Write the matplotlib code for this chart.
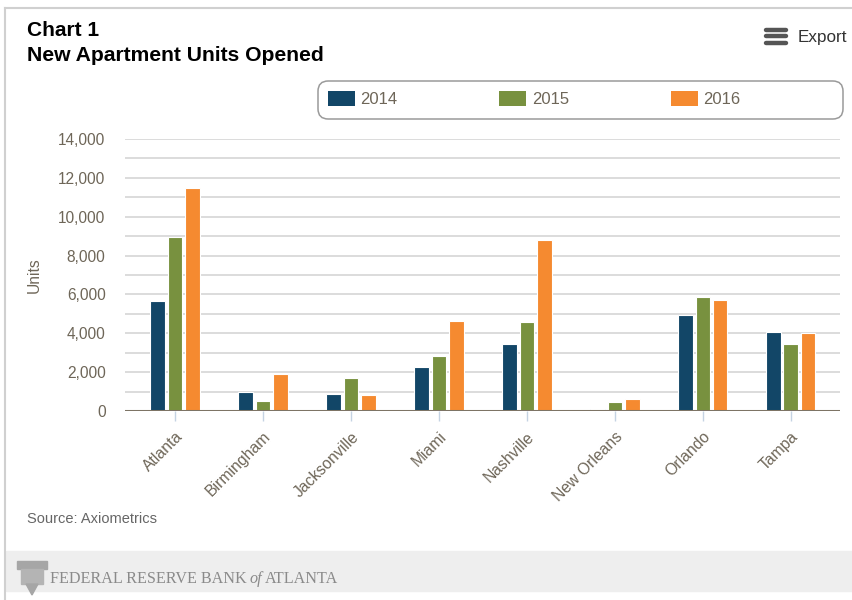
import numpy as np
import matplotlib
matplotlib.use('Agg')
import matplotlib.pyplot as plt
from matplotlib.patches import Rectangle, Patch, FancyBboxPatch, Polygon

plt.rcParams['font.family'] = ['Liberation Sans', 'DejaVu Sans']

# --- data ---
cities = ['Atlanta', 'Birmingham', 'Jacksonville', 'Miami', 'Nashville',
          'New Orleans', 'Orlando', 'Tampa']
years = ['2014', '2015', '2016']
units_2014 = [5660, 1000, 880, 2240, 3470, 110, 4920, 4090]
units_2015 = [8960, 520, 1710, 2850, 4580, 450, 5870, 3470]
units_2016 = [11500, 1900, 830, 4650, 8820, 620, 5730, 4020]
colors = ['#124667', '#78913f', '#f58a30']

TXT = '#6e6658'
W, H = 853, 600
fig = plt.figure(figsize=(W / 100, H / 100), dpi=100)

def fx(px):
    return px / W

def fy(py):
    return 1 - py / H

# frame lines and footer band
fig.add_artist(plt.Line2D([fx(5), fx(5)], [0, fy(8)], color='#d0d0d0', lw=1.5))
fig.add_artist(plt.Line2D([fx(5), 1], [fy(8), fy(8)], color='#d0d0d0', lw=1.5))
fig.add_artist(Rectangle((fx(6), fy(591)), 1 - fx(6), fy(551) - fy(591),
                         transform=fig.transFigure, color='#eeeeee', zorder=0))

ax = fig.add_axes([fx(125), fy(411), fx(840) - fx(125), fy(139) - fy(411)])

x = np.arange(len(cities))
bw = 0.165
off = 0.198
for i, (vals, c, yr) in enumerate(zip([units_2014, units_2015, units_2016], colors, years)):
    ax.bar(x + (i - 1) * off, vals, width=bw, color=c, edgecolor='white',
           linewidth=0.8, zorder=3, label=yr)

ax.set_xlim(-0.57, 7.56)
ax.set_ylim(0, 14000)
ax.set_yticks(np.arange(0, 14001, 2000))
ax.set_yticks(np.arange(1000, 14000, 2000), minor=True)
ax.set_yticklabels([f'{v:,}' for v in range(0, 14001, 2000)])
ax.grid(axis='y', which='both', color='#dcdcdc', lw=1.4, zorder=0)
ax.axhline(0, color='#7d7465', lw=2.2, zorder=4)
for s in ax.spines.values():
    s.set_visible(False)
ax.tick_params(axis='y', which='both', length=0, labelsize=11.2, labelcolor=TXT, pad=14)
ax.set_xticks(x)
ax.set_xticklabels(cities, rotation=45, ha='right', rotation_mode='anchor',
                   fontsize=11.3, color=TXT)
ax.tick_params(axis='x', length=7, width=1, color='#c5d3e3', direction='out', pad=6)
ax.set_ylabel('Units', fontsize=11.2, color=TXT, labelpad=12)

# legend: entries via fig.legend, rounded frame drawn separately
fig.add_artist(FancyBboxPatch((fx(318), fy(119)), fx(843) - fx(318), fy(81) - fy(119),
                              boxstyle='round,pad=0,rounding_size=0.012',
                              transform=fig.transFigure, facecolor='white',
                              edgecolor='#9a9a9a', lw=1.1, zorder=1,
                              mutation_aspect=W / H))
handles = [Patch(facecolor=c, edgecolor='none') for c in colors]
fs = 12
leg = fig.legend(handles, years, loc='center left', ncol=3,
                 bbox_to_anchor=(fx(328), fy(99)), bbox_transform=fig.transFigure,
                 frameon=False, fontsize=fs, handlelength=27 / (fs * 100 / 72),
                 handleheight=16 / (fs * 100 / 72), handletextpad=0.33,
                 columnspacing=6.1, borderpad=0, borderaxespad=0)
leg.set_zorder(2)
for t in leg.get_texts():
    t.set_color(TXT)

# titles and annotations
fig.text(fx(27), fy(36), 'Chart 1', fontsize=15, fontweight='bold', color='black',
         va='baseline')
fig.text(fx(27), fy(61), 'New Apartment Units Opened', fontsize=15.2, fontweight='bold',
         color='black', va='baseline')
for dy in (29.5, 36, 42.5):
    fig.add_artist(plt.Line2D([fx(766), fx(786)], [fy(dy), fy(dy)], color='#555555',
                              lw=3.2, solid_capstyle='round'))
fig.text(fx(798), fy(37.5), 'Export', fontsize=12.3, color='#333333', va='center')
fig.text(fx(27), fy(519), 'Source: Axiometrics', fontsize=10.5, color='#666666',
         va='center')

# footer wordmark: simple column icon + serif text
icon = '#a6a6a6'
fig.add_artist(Rectangle((fx(17), fy(569)), fx(47) - fx(17), fy(561) - fy(569),
                         transform=fig.transFigure, color=icon, zorder=1))
fig.add_artist(Rectangle((fx(21), fy(584)), fx(43) - fx(21), fy(569) - fy(584),
                         transform=fig.transFigure, color='#b4b4b4', zorder=1))
fig.add_artist(Polygon([(fx(26), fy(584)), (fx(38), fy(584)), (fx(32), fy(595))],
                       closed=True, transform=fig.transFigure, color=icon, zorder=1))
ff = 'Liberation Serif'
fig.text(fx(50), fy(579), 'FEDERAL RESERVE BANK', fontsize=11.6, color='#8a8a8a',
         family=ff, va='center')
fig.text(fx(250), fy(579), 'of', fontsize=11.6, color='#8a8a8a', style='italic',
         family=ff, va='center')
fig.text(fx(265), fy(579), 'ATLANTA', fontsize=11.6, color='#8a8a8a',
         family=ff, va='center')

fig.savefig('out.png', dpi=100)
